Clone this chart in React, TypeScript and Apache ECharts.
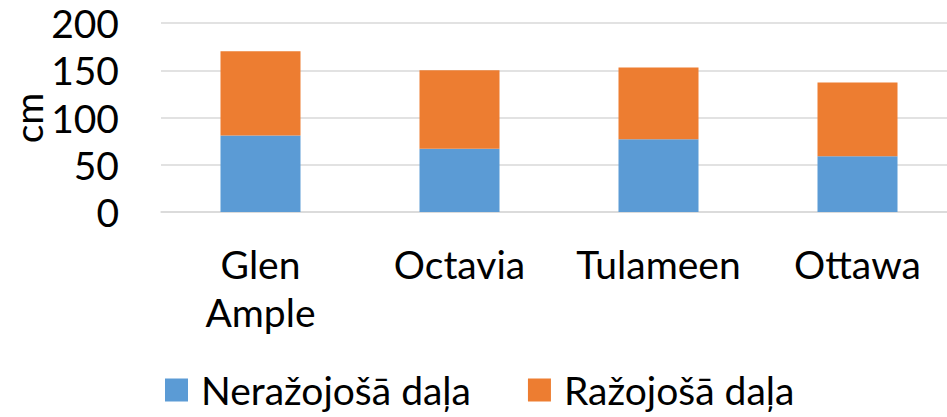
import React, { useEffect, useRef } from "react";
import * as echarts from "echarts";

const categories = ["Glen Ample", "Octavia", "Tulameen", "Ottawa"];
const nerazojosa = [81, 67, 77, 59];
const razojosa = [89, 83, 76, 78];
const seriesNames = ["Neražojošā daļa", "Ražojošā daļa"];
const yTicks = { min: 0, max: 200, interval: 50 };
const yName = "cm";

const FONT = "Lato";
const FS = 39;

export default function App() {
  const ref = useRef<HTMLDivElement>(null);
  useEffect(() => {
    const chart = echarts.init(ref.current!, null, { renderer: "svg" });
    chart.setOption({
      animation: false,
      textStyle: { fontFamily: FONT },
      grid: { left: 161, top: 23, height: 189, width: 796, outerBoundsMode: "none", containLabel: false },
      graphic: [
        {
          type: "text",
          x: 28,
          y: 118,
          rotation: Math.PI / 2,
          style: {
            text: yName,
            fontSize: FS,
            fontFamily: FONT,
            fill: "#000",
            align: "center",
            verticalAlign: "middle",
          },
        },
      ],
      legend: {
        left: 165,
        top: 370,
        padding: 0,
        itemWidth: 23,
        itemHeight: 23,
        itemGap: 57,
        icon: "rect",
        textStyle: { fontSize: FS, lineHeight: 40, color: "#000", fontFamily: FONT, padding: [0, 0, 0, 8] },
        data: seriesNames,
      },
      xAxis: {
        type: "category",
        data: categories,
        axisLine: { show: true, lineStyle: { color: "#D9D9D9", width: 1.5 } },
        axisTick: { show: false },
        axisLabel: {
          fontSize: FS,
          color: "#000",
          fontFamily: FONT,
          margin: 28,
          lineHeight: 48,
          interval: 0,
          formatter: (v: string) => v.replace(" ", "\n"),
        },
      },
      yAxis: {
        type: "value",
        min: yTicks.min,
        max: yTicks.max,
        interval: yTicks.interval,
        axisLine: { show: false },
        axisTick: { show: false },
        axisLabel: { fontSize: FS, color: "#000", fontFamily: FONT, margin: 42 },
        splitLine: { lineStyle: { color: "#D9D9D9", width: 1.5 } },
      },
      series: [
        {
          name: seriesNames[0],
          type: "bar",
          stack: "total",
          barWidth: 80,
          data: nerazojosa,
          itemStyle: { color: "#5B9BD5" },
        },
        {
          name: seriesNames[1],
          type: "bar",
          stack: "total",
          barWidth: 80,
          data: razojosa,
          itemStyle: { color: "#ED7D31" },
        },
      ],
    });
    return () => chart.dispose();
  }, []);
  return <div ref={ref} style={{ width: 947, height: 417, position: "absolute", left: 0, top: 0 }} />;
}
